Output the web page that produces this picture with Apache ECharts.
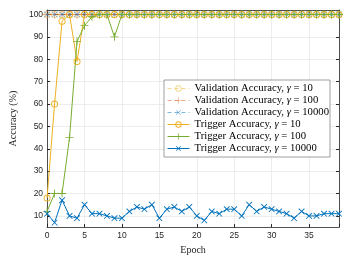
<!DOCTYPE html>
<html><head><meta charset="utf-8">
<script src="https://cdn.jsdelivr.net/npm/echarts@6/dist/echarts.min.js"></script>
<style>html,body{margin:0;padding:0;background:#fff}#c{width:346px;height:260px}</style>
</head><body><div id="c"></div>
<script>
var epochs = [0,1,2,3,4,5,6,7,8,9,10,11,12,13,14,15,16,17,18,19,20,21,22,23,24,25,26,27,28,29,30,31,32,33,34,35,36,37,38,39];
var valAcc10 = [100,100,100,100,100,100,100,100,100,100,100,100,100,100,100,100,100,100,100,100,100,100,100,100,100,100,100,100,100,100,100,100,100,100,100,100,100,100,100,100];
var valAcc100 = [100,100,100,100,100,100,100,100,100,100,100,100,100,100,100,100,100,100,100,100,100,100,100,100,100,100,100,100,100,100,100,100,100,100,100,100,100,100,100,100];
var valAcc10000 = [100,100,100,100,100,100,100,100,100,100,100,100,100,100,100,100,100,100,100,100,100,100,100,100,100,100,100,100,100,100,100,100,100,100,100,100,100,100,100,100];
var trigAcc10 = [18,60,97,100,79,100,100,100,100,100,100,100,100,100,100,100,100,100,100,100,100,100,100,100,100,100,100,100,100,100,100,100,100,100,100,100,100,100,100,100];
var trigAcc100 = [12,20,20,45,88,95,99,100,100,90,100,100,100,100,100,100,100,100,100,100,100,100,100,100,100,100,100,100,100,100,100,100,100,100,100,100,100,100,100,100];
var trigAcc10000 = [11,7,17,10,9,15,11,11,10,9,9,12,14,13,15,9,13,14,12,14,10,8,12,11,13,13,10,15,12,14,13,12,11,9,12,10,10,11,11,11];
var seriesNames = ['Validation Accuracy, γ = 10','Validation Accuracy, γ = 100','Validation Accuracy, γ = 10000','Trigger Accuracy, γ = 10','Trigger Accuracy, γ = 100','Trigger Accuracy, γ = 10000'];
var xTicks = [0,5,10,15,20,25,30,35];
var yTicks = [10,20,30,40,50,60,70,80,90,100];

function pairs(vals){ return epochs.map(function(e,i){ return [e, vals[i]]; }); }
var PLUS = 'path://M0,4.45 H10 V5.55 H0 Z M4.45,0 H5.55 V10 H4.45 Z';
var RING = 'path://M0,5 A5,5 0 1,0 10,5 A5,5 0 1,0 0,5 Z M1.3,5 A3.7,3.7 0 1,1 8.7,5 A3.7,3.7 0 1,1 1.3,5 Z';
var ORANGE = '#EDB120', RED = '#D95319', GREEN = '#77AC30', BLUE = '#0072BD';

function mk(name, vals, color, symbol, rot, dashed, opacity, size){
  return {
    name: name, type: 'line', data: pairs(vals), xAxisIndex: 0, yAxisIndex: 0,
    symbol: symbol, symbolSize: size, symbolRotate: rot, showAllSymbol: true,
    lineStyle: { color: color, width: 1, type: dashed ? [4,3] : 'solid', opacity: opacity },
    itemStyle: { color: color, borderWidth: 0, opacity: opacity },
    emphasis: { disabled: true }, animation: false
  };
}

var chart = echarts.init(document.getElementById('c'), null, { renderer: 'canvas' });
var axisCol = '#262626';
chart.setOption({
  animation: false,
  grid: { left: 34, right: 7, top: 10, bottom: 29, containLabel: false },
  xAxis: [{
    type: 'value', min: 0, max: 39, interval: 5,
    name: 'Epoch', nameLocation: 'middle', nameGap: 13,
    nameTextStyle: { fontFamily: 'Liberation Serif', fontSize: 10, color: axisCol },
    axisLine: { show: true, lineStyle: { color: axisCol, width: 0.8 } },
    axisTick: { show: true, inside: true, length: 3, lineStyle: { color: axisCol } },
    axisLabel: { fontFamily: 'Liberation Sans', fontSize: 8.5, color: axisCol, margin: 4,
      formatter: function(v){ return xTicks.indexOf(v) >= 0 ? String(v) : ''; } },
    splitLine: { show: true, lineStyle: { color: '#e8e8e8', width: 0.8 } }
  },{
    type: 'value', min: 0, max: 39, interval: 5, position: 'top',
    axisLine: { show: true, onZero: false, lineStyle: { color: axisCol, width: 0.8 } },
    axisTick: { show: true, inside: true, length: 3, lineStyle: { color: axisCol } },
    axisLabel: { show: false }, splitLine: { show: false }
  }],
  yAxis: [{
    type: 'value', min: 5, max: 102, interval: 10,
    name: 'Accuracy (%)', nameLocation: 'middle', nameGap: 21,
    nameTextStyle: { fontFamily: 'Liberation Serif', fontSize: 10, color: axisCol },
    axisLine: { show: true, lineStyle: { color: axisCol, width: 0.8 } },
    axisTick: { show: true, inside: true, length: 3, customValues: yTicks, lineStyle: { color: axisCol } },
    axisLabel: { fontFamily: 'Liberation Sans', fontSize: 8.5, color: axisCol, margin: 4, customValues: yTicks },
    splitLine: { show: true, lineStyle: { color: '#e8e8e8', width: 0.8 } }
  },{
    type: 'value', min: 5, max: 102, interval: 10, position: 'right',
    axisLine: { show: true, onZero: false, lineStyle: { color: axisCol, width: 0.8 } },
    axisTick: { show: true, inside: true, length: 3, customValues: yTicks, lineStyle: { color: axisCol } },
    axisLabel: { show: false }, splitLine: { show: false }
  }],
  legend: {
    show: true, orient: 'vertical', left: 164, top: 80,
    itemWidth: 22, itemHeight: 8, itemGap: 1,
    backgroundColor: '#fff', borderColor: '#888', borderWidth: 0.8, borderRadius: 0,
    padding: [3, 1, 3, 3],
    lineStyle: { width: 1 },
    data: seriesNames,
    textStyle: { fontFamily: 'Liberation Serif', fontSize: 10.7, lineHeight: 11, color: '#000',
      rich: { g: { fontFamily: 'Liberation Serif', fontStyle: 'italic', fontSize: 10.7, lineHeight: 11, color: '#000' } } },
    formatter: function(n){ return n.replace('γ', '{g|γ}'); }
  },
  series: [
    mk(seriesNames[0], valAcc10, ORANGE, RING, 0, true, 0.5, 7),
    mk(seriesNames[1], valAcc100, RED, PLUS, 0, true, 0.5, 8),
    mk(seriesNames[2], valAcc10000, BLUE, PLUS, 45, true, 0.5, 8),
    mk(seriesNames[3], trigAcc10, ORANGE, RING, 0, false, 1, 7),
    mk(seriesNames[4], trigAcc100, GREEN, PLUS, 0, false, 1, 8),
    mk(seriesNames[5], trigAcc10000, BLUE, PLUS, 45, false, 1, 8)
  ]
});
</script></body></html>
